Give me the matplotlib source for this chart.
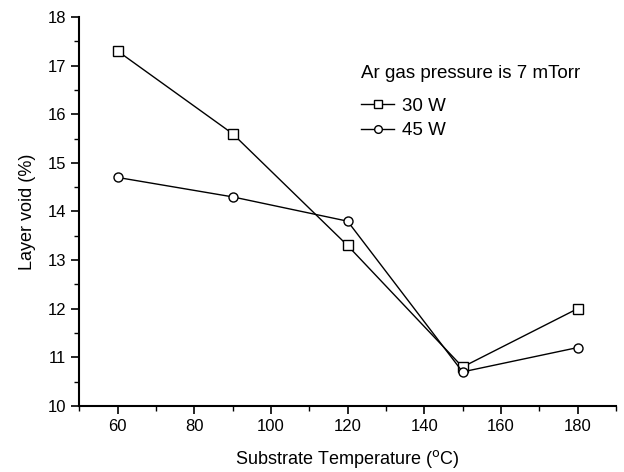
import matplotlib.pyplot as plt
from matplotlib.ticker import MultipleLocator

plt.rcParams['font.family'] = ['Liberation Sans', 'DejaVu Sans']

temps = [60, 90, 120, 150, 180]
void_30w = [17.3, 15.6, 13.3, 10.8, 12.0]
void_45w = [14.7, 14.3, 13.8, 10.7, 11.2]

fig = plt.figure(figsize=(6.24, 4.72), dpi=100)
ax = fig.add_axes([0.127, 0.14, 0.86, 0.824])

ax.plot(temps, void_30w, color='black', lw=1.0, marker='s', ms=6.5,
        mfc='white', mec='black', mew=1.0, label='30 W')
ax.plot(temps, void_45w, color='black', lw=1.0, marker='o', ms=6.5,
        mfc='white', mec='black', mew=1.0, label='45 W')

ax.set_xlim(50, 190)
ax.set_ylim(10, 18)
ax.xaxis.set_major_locator(MultipleLocator(20))
ax.xaxis.set_minor_locator(MultipleLocator(10))
ax.yaxis.set_major_locator(MultipleLocator(1))
ax.yaxis.set_minor_locator(MultipleLocator(0.5))
ax.set_xticks(range(60, 181, 20))

for s in ['top', 'right']:
    ax.spines[s].set_visible(False)
for s in ['left', 'bottom']:
    ax.spines[s].set_linewidth(1.5)

ax.tick_params(which='major', direction='out', length=6, width=1.2, labelsize=12)
ax.tick_params(which='minor', direction='out', length=3.5, width=1.0)

ax.set_xlabel('Substrate Temperature ($^{\\mathrm{o}}$C)', fontsize=13, labelpad=10)
ax.set_ylabel('Layer void (%)', fontsize=13, labelpad=8)

leg = ax.legend(title='Ar gas pressure is 7 mTorr', loc='upper left',
                bbox_to_anchor=(0.50, 0.91), frameon=False, fontsize=13.5,
                title_fontsize=13.5, handlelength=1.8, handletextpad=0.4,
                labelspacing=0.4, borderpad=0.2, markerscale=0.85)
leg._legend_box.align = 'left'
leg._legend_box.sep = 11

fig.savefig('out.png', dpi=100)
